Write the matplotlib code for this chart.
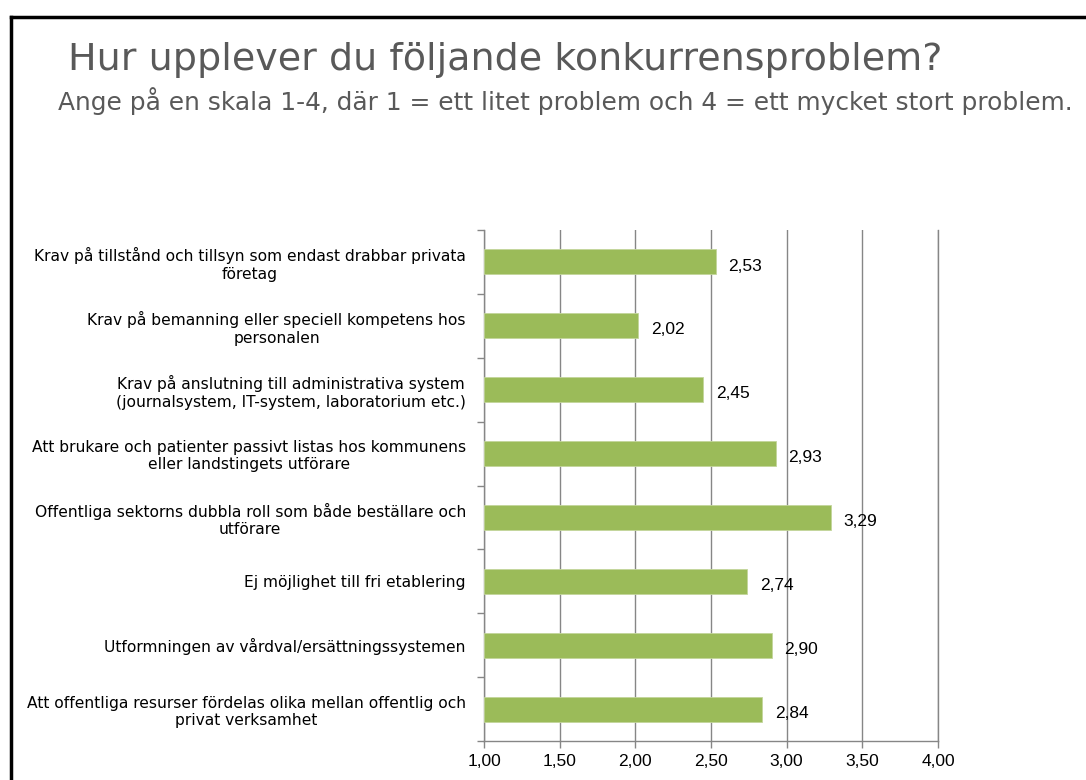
import matplotlib
matplotlib.use("Agg")
import matplotlib.pyplot as plt
from matplotlib.lines import Line2D

plt.rcParams['font.family'] = ['DejaVu Sans']

# data
categories = [
    "Krav på tillstånd och tillsyn som endast drabbar privata\nföretag",
    "Krav på bemanning eller speciell kompetens hos\npersonalen",
    "Krav på anslutning till administrativa system\n(journalsystem, IT-system, laboratorium etc.)",
    "Att brukare och patienter passivt listas hos kommunens\neller landstingets utförare",
    "Offentliga sektorns dubbla roll som både beställare och\nutförare",
    "Ej möjlighet till fri etablering",
    "Utformningen av vårdval/ersättningssystemen",
    "Att offentliga resurser fördelas olika mellan offentlig och\nprivat verksamhet",
]
values = [2.53, 2.02, 2.45, 2.93, 3.29, 2.74, 2.90, 2.84]
x_ticks = [1.0, 1.5, 2.0, 2.5, 3.0, 3.5, 4.0]

W, H = 1086, 780
fig = plt.figure(figsize=(W / 100, H / 100), dpi=100)

# plot area in pixels
left, right, top, bottom = 484, 938, 230, 741
ax = fig.add_axes([left / W, 1 - bottom / H, (right - left) / W, (bottom - top) / H])

grid_col = '#868686'
bar_col = '#9BBB59'
num_font = ['Liberation Sans', 'DejaVu Sans']

n = len(categories)
pos = list(range(n))
base = 1.0
ax.barh(pos, [v - base for v in values], left=base, height=0.39,
        color=bar_col, edgecolor='#C3D69B', linewidth=0.6, zorder=3)

for p, v in zip(pos, values):
    ax.annotate(f"{v:.2f}".replace('.', ','), xy=(v, p), xytext=(9, -3),
                textcoords='offset points', ha='left', va='center',
                fontsize=12.5, family=num_font, color='black', zorder=4)

ax.set_xlim(1.0, 4.0)
ax.set_ylim(n - 0.5, -0.5)

ax.set_xticks(x_ticks)
ax.set_xticklabels([f"{t:.2f}".replace('.', ',') for t in x_ticks], fontsize=12.5, family=num_font)
ax.tick_params(axis='x', direction='out', length=5, width=1, color=grid_col, pad=4)

# category boundaries as major ticks, labels on minor ticks
ax.set_yticks([i - 0.5 for i in range(n + 1)])
ax.set_yticklabels([])
ax.tick_params(axis='y', which='major', direction='out', length=5, width=1, color=grid_col)
ax.set_yticks(pos, minor=True)
ax.set_yticklabels(categories, minor=True, fontsize=11.2)
ax.tick_params(axis='y', which='minor', length=0, pad=13)
for lab in ax.get_yticklabels(minor=True):
    lab.set_multialignment('center')
    lab.set_linespacing(1.2)

ax.grid(axis='x', color=grid_col, linewidth=1, zorder=0)
ax.set_axisbelow(True)
ax.spines['top'].set_visible(False)
for s in ['left', 'bottom', 'right']:
    ax.spines[s].set_color(grid_col)
    ax.spines[s].set_linewidth(1)

# titles
fig.text(68 / W, 1 - 60 / H, "Hur upplever du följande konkurrensproblem?",
         fontsize=27.4, color='#595959', ha='left', va='center')
fig.text(58 / W, 1 - 101 / H,
         "Ange på en skala 1-4, där 1 = ett litet problem och 4 = ett mycket stort problem.",
         fontsize=17.9, color='#595959', ha='left', va='center')

# slide frame (top and left edge)
fig.add_artist(Line2D([11 / W, 1.0], [1 - 16.5 / H, 1 - 16.5 / H], color='black', linewidth=2.5))
fig.add_artist(Line2D([11 / W, 11 / W], [0.0, 1 - 16.5 / H], color='black', linewidth=2.5))

fig.savefig('out.png', dpi=100)
